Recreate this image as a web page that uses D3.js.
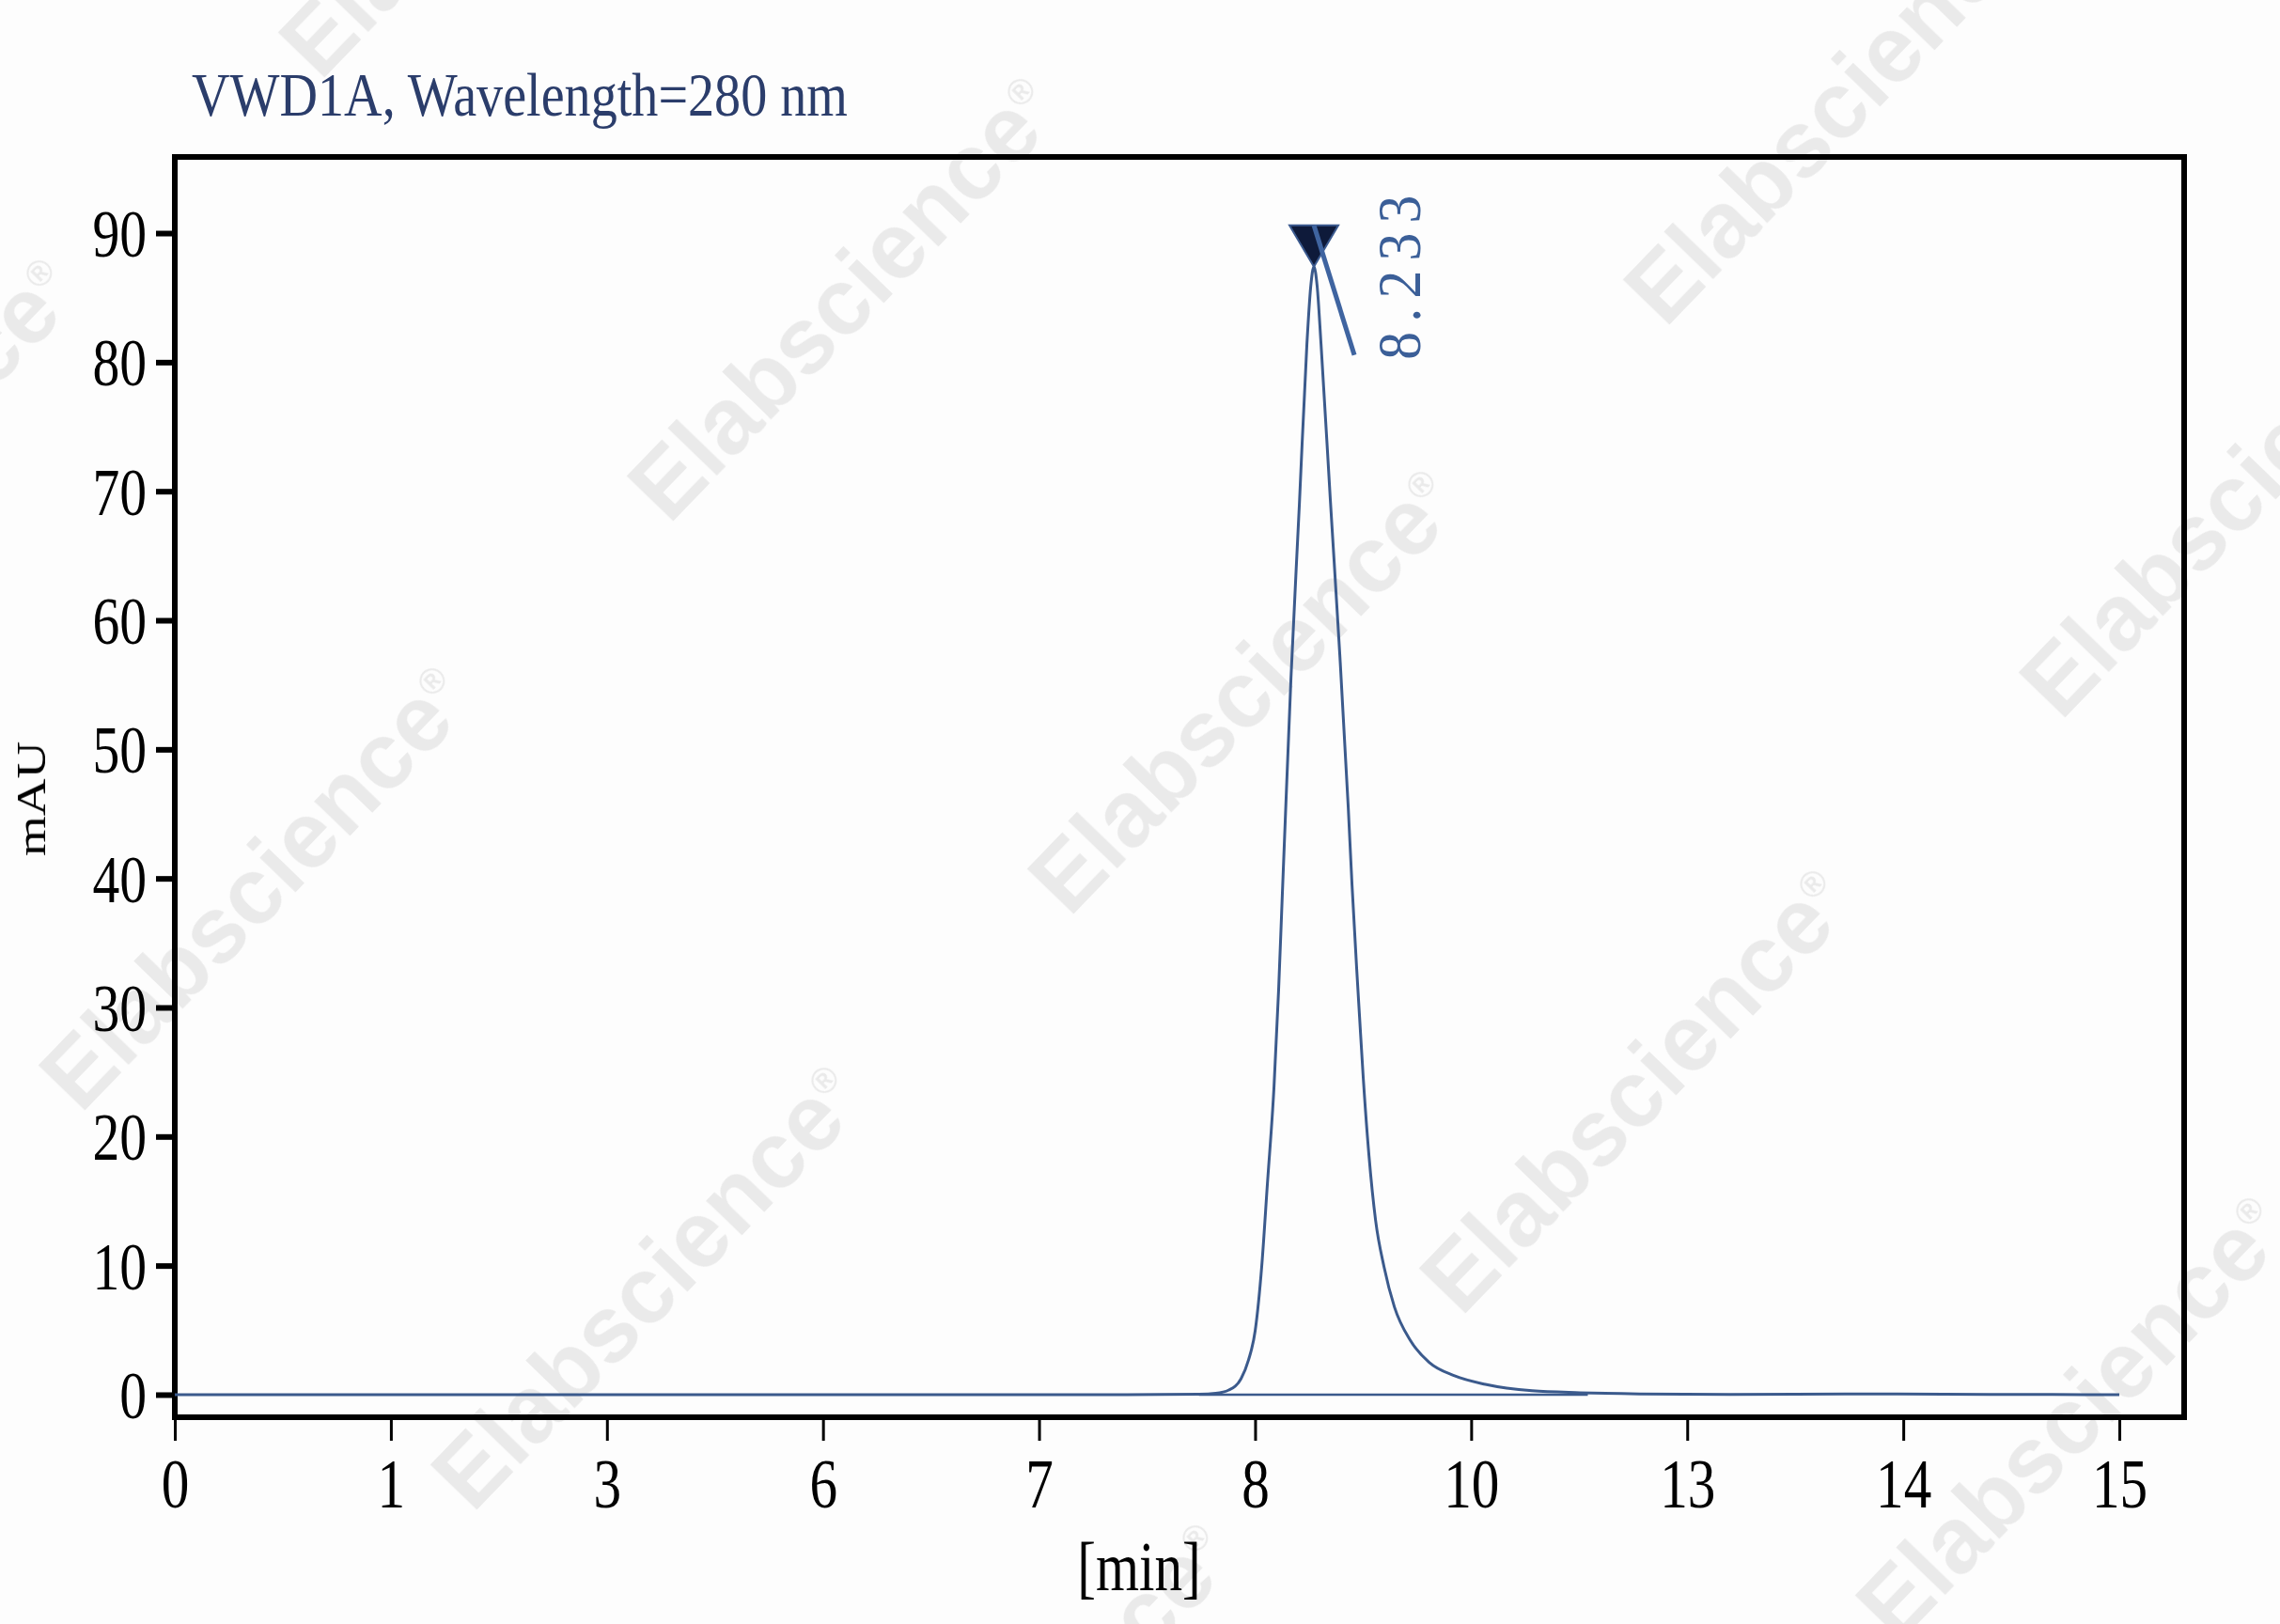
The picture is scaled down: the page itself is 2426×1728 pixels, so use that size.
<!DOCTYPE html>
<html>
<head>
<meta charset="utf-8">
<script src="https://cdn.jsdelivr.net/npm/d3@7"></script>
<style>
  body { margin: 0; background: #fdfdfd; }
  svg { display: block; }
</style>
</head>
<body>
<div id="chart"></div>
<script>
// Chromatogram data (x in axis units, y in mAU)
const timePos = [0, 2, 4, 6, 7, 7.6, 7.9, 8.03, 8.131, 8.225, 8.283, 8.334, 8.385, 8.428,
  8.479, 8.515, 8.544, 8.566, 8.61, 8.675, 8.733, 8.762, 8.787, 8.812, 8.842, 8.914, 8.987,
  9.052, 9.081, 9.117, 9.139, 9.168, 9.212, 9.263, 9.328, 9.408, 9.531, 9.676, 9.872,
  10.11, 10.47, 10.84, 11.3, 12, 13, 14, 15];
const signal = [0, 0, 0, 0, 0, 0.01, 0.03, 0.1, 0.36, 1.24, 2.7, 4.95, 10.0, 16.3,
  23.8, 31.4, 38.9, 44.5, 55.5, 69.0, 81.4, 85.8, 87.4, 85.9, 81.4, 69.3, 57.3,
  45.5, 39.5, 33.0, 29.3, 24.5, 18.5, 13.5, 9.9, 6.8, 4.2, 2.5, 1.46,
  0.8, 0.3, 0.15, 0.06, 0.02, 0.05, 0.02, 0];

// integration baseline under the peak
const baselinePos = [7.9, 10.9];
const baselineVal = [0, 0];

// peak annotation
const peakPos = 8.787;
const peakVal = 87.4;
const peakLabel = "8.233";

// axes
const yTicks = [0, 10, 20, 30, 40, 50, 60, 70, 80, 90];
const xTickPos = [0, 1, 2, 3, 4, 5, 6, 7, 8, 9].map(i => i * 15 / 9);
const xTickLabels = ["0", "1", "3", "6", "7", "8", "10", "13", "14", "15"];

const titleText = "VWD1A, Wavelength=280 nm";
const xTitle = "[min]";
const yTitle = "mAU";

// watermark centres (page pixels)
const wmX = [526, 897, 1957, -147, 271, 1323, 2378, 688, 1740, 2204, 1083];
const wmY = [-155, 317, 108, 510, 944, 735, 526, 1369, 1160, 1508, 1856];

const W = 2426, H = 1728;
const frame = {left: 186, right: 2324, top: 167, bottom: 1508};
const lineColor = "#3b5a8c";

const svg = d3.select("#chart").append("svg")
    .attr("width", W)
    .attr("height", H);

svg.append("rect").attr("width", W).attr("height", H).attr("fill", "#fdfdfd");

// Watermarks
const wm = svg.append("g").attr("fill", "#000").attr("opacity", 0.075)
    .style("font-family", "'Liberation Sans', Arial, sans-serif")
    .style("font-weight", "bold");
wmX.forEach((cx, i) => {
    const t = wm.append("text")
        .attr("transform", `translate(${cx},${wmY[i]}) rotate(-46)`)
        .attr("text-anchor", "middle")
        .attr("dy", "0.35em")
        .style("font-size", "100px");
    t.append("tspan").text("Elabscience");
    t.append("tspan").attr("dy", "-1.0em").style("font-size", "38px").text("®");
});

// Scales
const x = d3.scaleLinear().domain([0, 15.5]).range([frame.left, frame.right]);
const y = d3.scaleLinear().domain([-1.75, 95.9]).range([frame.bottom, frame.top]);

const serif = "'Liberation Serif', 'Times New Roman', serif";

// Y axis
const yAxis = svg.append("g")
    .attr("transform", `translate(${frame.left},0)`)
    .call(d3.axisLeft(y).tickValues(yTicks).tickSize(20).tickPadding(10));
yAxis.select(".domain").remove();
yAxis.selectAll(".tick line").attr("stroke", "#000").attr("stroke-width", 6);
yAxis.selectAll("text")
    .attr("x", -30 / 0.8)
    .attr("dy", "0.34em")
    .attr("transform", "scale(0.8,1)")
    .attr("fill", "#000")
    .style("font-family", serif)
    .style("font-size", "72px");

// X axis
const xAxis = svg.append("g")
    .attr("transform", `translate(0,${frame.bottom})`)
    .call(d3.axisBottom(x).tickValues(xTickPos)
        .tickFormat((d, i) => xTickLabels[i])
        .tickSize(25).tickPadding(18));
xAxis.select(".domain").remove();
xAxis.selectAll(".tick line").attr("stroke", "#000").attr("stroke-width", 3);
xAxis.selectAll("text")
    .attr("transform", "scale(0.8,1)")
    .attr("fill", "#000")
    .style("font-family", serif)
    .style("font-size", "74px");

// Frame
svg.append("rect")
    .attr("x", frame.left).attr("y", frame.top)
    .attr("width", frame.right - frame.left)
    .attr("height", frame.bottom - frame.top)
    .attr("fill", "none")
    .attr("stroke", "#000")
    .attr("stroke-width", 6);

// Baseline and signal
const line = d3.line()
    .x(d => x(d[0]))
    .y(d => y(d[1]))
    .curve(d3.curveMonotoneX);

svg.append("path")
    .datum(d3.zip(baselinePos, baselineVal))
    .attr("d", line)
    .attr("fill", "none")
    .attr("stroke", lineColor)
    .attr("stroke-width", 2.5);

svg.append("path")
    .datum(d3.zip(timePos, signal))
    .attr("d", line)
    .attr("fill", "none")
    .attr("stroke", lineColor)
    .attr("stroke-width", 3)
    .attr("stroke-linejoin", "round");

// Peak marker
const px = x(peakPos), py = y(peakVal);
svg.append("path")
    .attr("d", `M${px - 26},${py - 44}L${px + 26},${py - 44}L${px},${py}Z`)
    .attr("fill", "#0e1a3a")
    .attr("stroke", "#3b5a8f")
    .attr("stroke-width", 2);
svg.append("line")
    .attr("x1", px).attr("y1", py - 44)
    .attr("x2", px + 43).attr("y2", py + 94)
    .attr("stroke", "#3f64a0")
    .attr("stroke-width", 5);
svg.append("text")
    .attr("transform", `translate(${px + 113},${py + 99}) rotate(-90) scale(0.9,1)`)
    .attr("fill", "#3b5f98")
    .attr("textLength", 175 / 0.9)
    .attr("lengthAdjust", "spacing")
    .style("font-family", serif)
    .style("font-size", "66px")
    .text(peakLabel);

// Titles
svg.append("text")
    .attr("transform", "translate(204,123) scale(0.85,1)")
    .attr("fill", "#2b3d6b")
    .attr("textLength", 698 / 0.85)
    .attr("lengthAdjust", "spacingAndGlyphs")
    .style("font-family", serif)
    .style("font-size", "66px")
    .text(titleText);

svg.append("text")
    .attr("transform", "translate(1212,1692) scale(0.8,1)")
    .attr("text-anchor", "middle")
    .attr("fill", "#000")
    .style("font-family", serif)
    .style("font-size", "74px")
    .text(xTitle);

svg.append("text")
    .attr("transform", "translate(48,850) rotate(-90) scale(1.25,1)")
    .attr("text-anchor", "middle")
    .attr("fill", "#000")
    .style("font-family", serif)
    .style("font-size", "44px")
    .text(yTitle);
</script>
</body>
</html>
